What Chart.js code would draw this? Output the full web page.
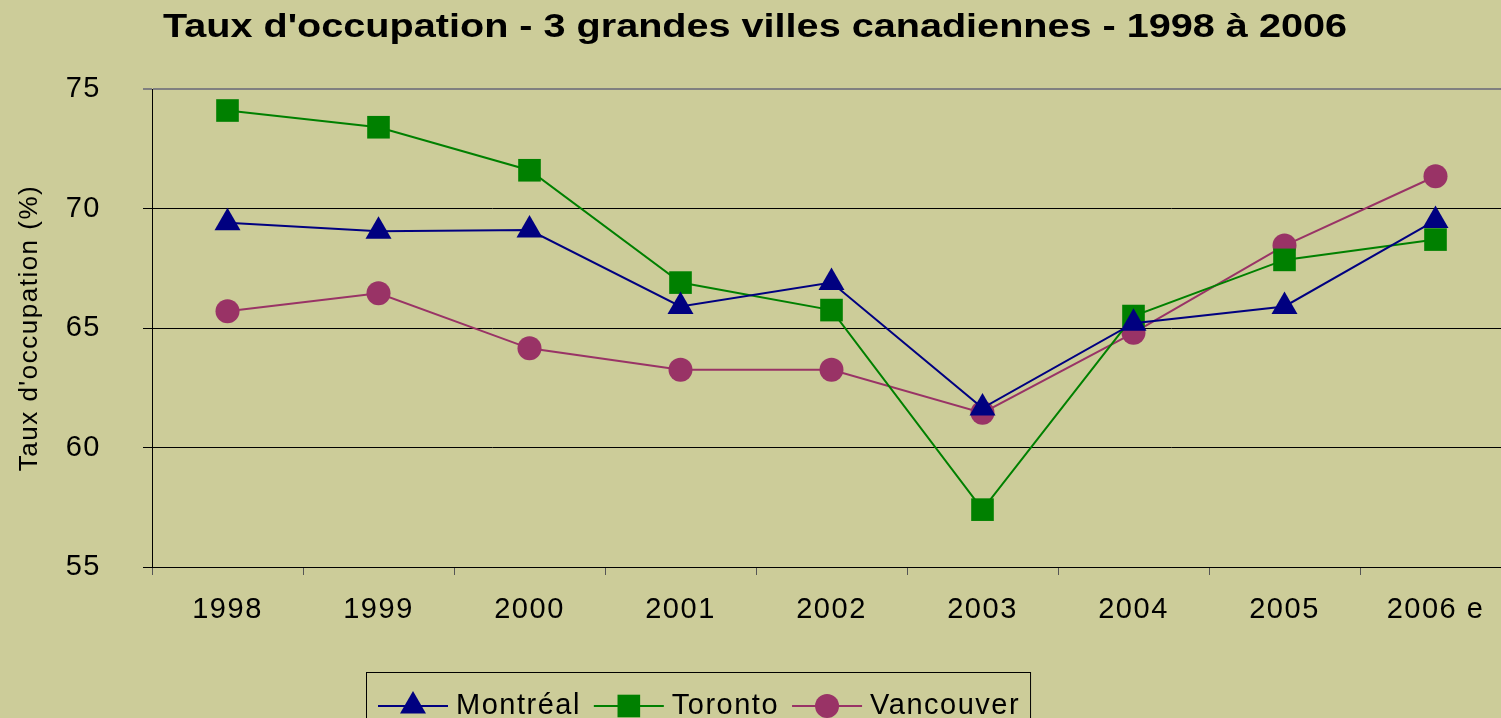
<!DOCTYPE html>
<html>
<head>
<meta charset="utf-8">
<title>Taux d'occupation</title>
<script src="https://cdn.jsdelivr.net/npm/chart.js@4"></script>
<style>
    html, body { margin: 0; padding: 0; overflow: hidden; background: #CCCC99; }
    #wrap { position: relative; width: 1515px; height: 718px; }
    canvas { display: block; }
</style>
</head>
<body>
<div id="wrap"><canvas id="chart"></canvas></div>
<script>
var chartTitle = "Taux d'occupation - 3 grandes villes canadiennes - 1998 à 2006";
var years = ['1998', '1999', '2000', '2001', '2002', '2003', '2004', '2005', '2006 e'];
var montreal = [69.4, 69.05, 69.1, 65.9, 66.9, 61.65, 65.2, 65.9, 69.5];
var toronto = [74.1, 73.4, 71.6, 66.9, 65.75, 57.4, 65.5, 67.85, 68.7];
var vancouver = [65.7, 66.45, 64.15, 63.25, 63.25, 61.45, 64.8, 68.45, 71.35];
var yTicks = [55, 60, 65, 70, 75];

var fontFamily = '"Liberation Sans", Arial, sans-serif';

/**
 * Plugin to widen the text a bit, the original fonts are stretched
 */
var wideText = {
    id: 'wideText',
    beforeDraw: function(chart) {
        chart.ctx.letterSpacing = '1.5px';
    }
};

/**
 * Plugin to draw the stretched bold title
 */
var wideTitle = {
    id: 'wideTitle',
    afterDraw: function(chart) {
        var ctx = chart.ctx;
        ctx.save();
        ctx.letterSpacing = '0px';
        ctx.font = 'bold 33px ' + fontFamily;
        ctx.fillStyle = '#000';
        ctx.textAlign = 'center';
        ctx.textBaseline = 'alphabetic';
        ctx.translate(755, 37);
        ctx.scale(1.2, 1);
        ctx.fillText(chartTitle, 0, 0);
        ctx.restore();
    }
};

/**
 * Plugin to draw the boxed legend under the x axis
 */
var boxLegend = {
    id: 'boxLegend',
    afterDraw: function(chart) {
        var ctx = chart.ctx;
        var x = 378;
        var y = 706;
        ctx.save();
        ctx.font = '29px ' + fontFamily;
        ctx.textBaseline = 'middle';
        chart.data.datasets.forEach(function(ds) {
            ctx.strokeStyle = ds.borderColor;
            ctx.lineWidth = 2;
            ctx.beginPath();
            ctx.moveTo(x, y);
            ctx.lineTo(x + 70, y);
            ctx.stroke();
            ctx.fillStyle = ds.backgroundColor;
            Chart.helpers.drawPoint(ctx, {
                pointStyle: ds.pointStyle,
                radius: ds.pointRadius,
                borderWidth: 0
            }, x + 35, y);
            ctx.fillStyle = '#000';
            ctx.fillText(ds.label, x + 78, y);
            x += 78 + ctx.measureText(ds.label).width + 13;
        });
        ctx.strokeStyle = '#000';
        ctx.lineWidth = 1;
        ctx.strokeRect(366.5, 672.5, x - 13 + 10 - 366, 60);
        ctx.restore();
    }
};

new Chart(document.getElementById('chart').getContext('2d'), {
    type: 'line',
    data: {
        labels: years,
        datasets: [
            {
                label: 'Montréal',
                data: montreal,
                borderColor: '#000080',
                backgroundColor: '#000080',
                borderWidth: 2,
                pointStyle: 'triangle',
                pointRadius: 15,
                pointBorderWidth: 0,
                tension: 0
            },
            {
                label: 'Toronto',
                data: toronto,
                borderColor: '#008000',
                backgroundColor: '#008000',
                borderWidth: 2,
                pointStyle: 'rect',
                pointRadius: 16,
                pointBorderWidth: 0,
                tension: 0
            },
            {
                label: 'Vancouver',
                data: vancouver,
                borderColor: '#993366',
                backgroundColor: '#993366',
                borderWidth: 2,
                pointStyle: 'circle',
                pointRadius: 12,
                pointBorderWidth: 0,
                tension: 0
            }
        ]
    },
    options: {
        responsive: true,
        maintainAspectRatio: false,
        animation: false,
        layout: {
            autoPadding: false,
            padding: { left: 0, right: 4, top: 89, bottom: 0 }
        },
        plugins: {
            legend: { display: false },
            tooltip: { enabled: false },
            title: { display: false }
        },
        scales: {
            x: {
                offset: true,
                grid: {
                    offset: true,
                    drawOnChartArea: false,
                    drawTicks: true,
                    tickLength: 8,
                    color: '#555'
                },
                border: { color: '#000', width: 1 },
                ticks: {
                    color: '#000',
                    padding: 18,
                    maxRotation: 0,
                    font: { family: fontFamily, size: 29 }
                },
                afterFit: function(scale) {
                    scale.height = 151;
                    scale.paddingLeft = 0;
                    scale.paddingRight = 0;
                }
            },
            y: {
                min: 55,
                max: 75,
                afterBuildTicks: function(scale) {
                    scale.ticks = yTicks.map(function(v) { return { value: v }; });
                },
                grid: {
                    color: function(c) { return c.tick && c.tick.value === 75 ? '#808080' : '#000'; },
                    lineWidth: function(c) { return c.tick && c.tick.value === 75 ? 2 : 1; },
                    tickLength: 9
                },
                border: { color: '#000', width: 1 },
                ticks: {
                    color: '#000',
                    padding: 42,
                    font: { family: fontFamily, size: 29 }
                },
                title: {
                    display: true,
                    text: "Taux d'occupation (%)",
                    color: '#000',
                    font: { family: fontFamily, size: 26 },
                    padding: { top: 14, bottom: 0 }
                },
                afterFit: function(scale) {
                    scale.width = 152;
                    scale.paddingTop = 0;
                    scale.paddingBottom = 0;
                }
            }
        }
    },
    plugins: [wideText, wideTitle, boxLegend]
});
</script>
</body>
</html>
